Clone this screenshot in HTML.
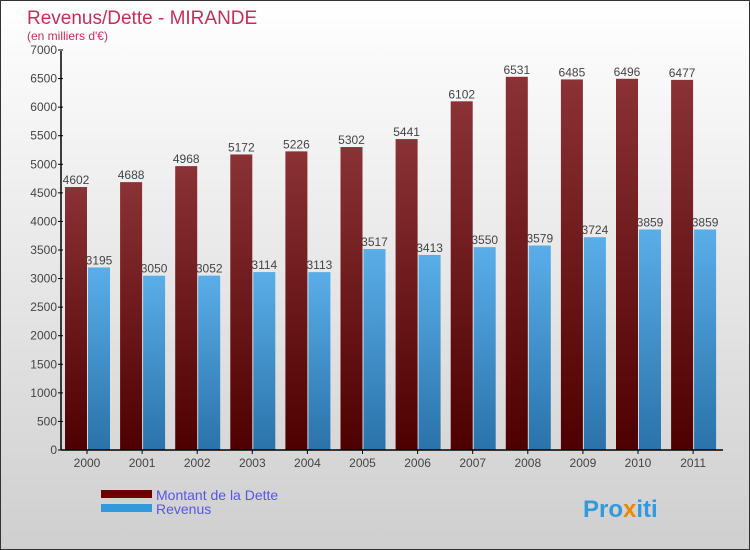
<!DOCTYPE html>
<html><head><meta charset="utf-8"><style>
body{margin:0}
#c{width:750px;height:550px;position:relative;box-sizing:border-box;border:1px solid #333;background:linear-gradient(#ffffff,#cfcfcf);font-family:"Liberation Sans",sans-serif;overflow:hidden}
</style></head><body>
<div id="c">
<svg width="748" height="548" id="s">
<defs>
<linearGradient id="gd" x1="0" y1="0" x2="0" y2="1"><stop offset="0" stop-color="#8a3236"/><stop offset="1" stop-color="#4e0000"/></linearGradient>
<linearGradient id="gr" x1="0" y1="0" x2="0" y2="1"><stop offset="0" stop-color="#5aaee8"/><stop offset="1" stop-color="#2a72aa"/></linearGradient>
</defs>
<text x="26" y="23" font-size="19" fill="#c0305a">Revenus/Dette - MIRANDE</text>
<text x="26" y="39" font-size="12" fill="#c0305a">(en milliers d'€)</text>
<g id="bars"></g>
<g id="axes"></g>
<rect x="100" y="489" width="51" height="8" fill="#6a0000"/>
<text x="155" y="499" font-size="14" fill="#5555ee">Montant de la Dette</text>
<rect x="100" y="503" width="51" height="8" fill="#3399dd"/>
<text x="155" y="513" font-size="14" fill="#5555ee">Revenus</text>
<text x="582" y="516" font-size="24" font-weight="bold" fill="#3399dd">Pro<tspan fill="#ee8800">x</tspan>iti</text>
</svg>
</div>
<script>
const years=["2000","2001","2002","2003","2004","2005","2006","2007","2008","2009","2010","2011"];
const dette=[4602,4688,4968,5172,5226,5302,5441,6102,6531,6485,6496,6477];
const revenus=[3195,3050,3052,3114,3113,3517,3413,3550,3579,3724,3859,3859];
const ticks=[0,500,1000,1500,2000,2500,3000,3500,4000,4500,5000,5500,6000,6500,7000];
const NS="http://www.w3.org/2000/svg";
const y0=449,pxPer=400/7000;
function yS(v){return y0-v*pxPer;}
function xC(i){return 86+i*55.1;}
function mk(t,a,p){const e=document.createElementNS(NS,t);for(const k in a)e.setAttribute(k,a[k]);p.appendChild(e);return e;}
const bars=document.getElementById('bars'),axes=document.getElementById('axes');
years.forEach((yr,i)=>{
  const c=xC(i);
  let r=mk('rect',{x:c-22,y:yS(dette[i]),width:22,height:y0-yS(dette[i]),fill:'url(#gd)'},bars);
  
  
  r=mk('rect',{x:c+1,y:yS(revenus[i]),width:22,height:y0-yS(revenus[i]),fill:'url(#gr)'},bars);
  
  
  let t=mk('text',{x:c-11,y:yS(dette[i])-3,'font-size':12,fill:'#444','text-anchor':'middle'},bars);t.textContent=dette[i];
  
  
  t=mk('text',{x:c+12,y:yS(revenus[i])-3,'font-size':12,fill:'#444','text-anchor':'middle'},bars);t.textContent=revenus[i];
  
  
  mk('line',{x1:c,x2:c,y1:y0,y2:y0+4,stroke:'#000'},axes);
  t=mk('text',{x:c,y:y0+17,'font-size':12,fill:'#444','text-anchor':'middle'},axes);t.textContent=yr;
  
  
});
mk('line',{x1:60,x2:60,y1:50,y2:y0,stroke:'#000','stroke-width':1.5},axes);
mk('line',{x1:60,x2:722,y1:y0,y2:y0,stroke:'#000','stroke-width':1.5},axes);
ticks.forEach(v=>{
  mk('line',{x1:57,x2:62,y1:yS(v),y2:yS(v),stroke:'#000'},axes);
  const t=mk('text',{x:56,y:yS(v)+4,'font-size':12,fill:'#444','text-anchor':'end'},axes);t.textContent=v;
  
  
});
</script>
</body></html>
